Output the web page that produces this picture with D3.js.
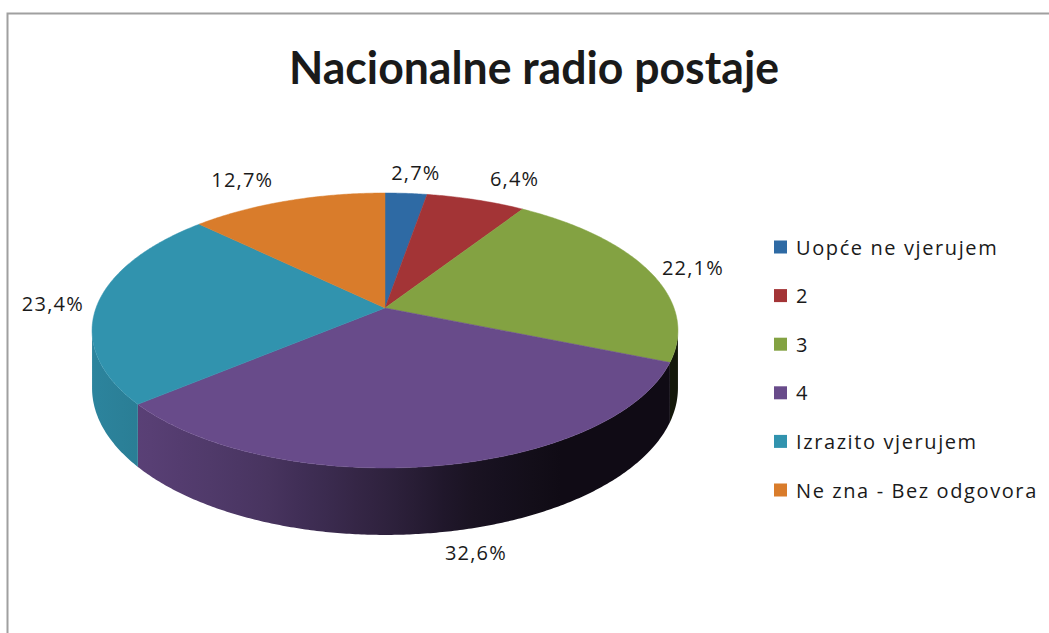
<!DOCTYPE html>
<html>
<head>
<meta charset="utf-8">
<script src="https://cdn.jsdelivr.net/npm/d3@7"></script>
<style>
  body { margin: 0; background: #fff; }
  svg { display: block; font-family: "Open Sans", Lato, sans-serif; }
</style>
</head>
<body>
<div class="pie-chart"></div>
<script>
const title = 'Nacionalne radio postaje';
const categories = ['Uopće ne vjerujem', '2', '3', '4', 'Izrazito vjerujem', 'Ne zna - Bez odgovora'];
const values = [2.7, 6.4, 22.1, 32.6, 23.4, 12.7];
const colors = ['#2e6aa4', '#a33436', '#83a242', '#684b8a', '#3193ae', '#d97c2b'];

const width = 1049, height = 633;
const svg = d3.select('.pie-chart').append('svg')
  .attr('width', width).attr('height', height);

// chart area frame (runs off the right and bottom of the picture)
svg.append('rect')
  .attr('x', 7.5).attr('y', 13.5).attr('width', 1100).attr('height', 700)
  .attr('fill', 'none').attr('stroke', '#a0a0a0').attr('stroke-width', 2);

svg.append('text')
  .attr('x', 534).attr('y', 84)
  .attr('text-anchor', 'middle')
  .attr('font-family', 'Lato, sans-serif')
  .attr('font-size', 46).attr('font-weight', 'bold').attr('fill', '#1a1a1a')
  .attr('textLength', 490).attr('lengthAdjust', 'spacingAndGlyphs')
  .text(title);

// 3d pie: circle in a tilted plane, simple perspective
const CX = 385, CY = 308, RX = 289, RY = 133.8, P = 0.1636, DEPTH = 56;
function project(theta, r, depth) {
  const u = r * Math.sin(theta), v = -r * Math.cos(theta);
  const s = 1 / (1 - P * v);
  return [CX + RX * u * s, CY + RY * v * s + depth * s];
}

const arcs = d3.pie().sort(null).value(d => d)(values);
const line = d3.line();
const step = Math.PI / 360;
function rim(a0, a1, depth) {
  const pts = [];
  const n = Math.max(2, Math.ceil((a1 - a0) / step));
  for (let i = 0; i <= n; i++) pts.push(project(a0 + (a1 - a0) * i / n, 1, depth));
  return pts;
}

// wall shading, light comes from the left
const xLeft = CX - RX / Math.sqrt(1 - P * P), xRight = CX + RX / Math.sqrt(1 - P * P);
const shade = d3.scaleLinear()
  .domain([0, 0.09, 0.29, 0.5, 0.645, 0.8, 1])
  .range([0.9, 0.85, 0.7, 0.45, 0.25, 0.15, 0.15]);
const defs = svg.append('defs');
colors.forEach((c, i) => {
  const g = defs.append('linearGradient').attr('id', 'wall' + i)
    .attr('gradientUnits', 'userSpaceOnUse')
    .attr('x1', xLeft).attr('x2', xRight).attr('y1', 0).attr('y2', 0);
  d3.range(0, 1.0001, 0.05).forEach(t => {
    const k = shade(t), rgb = d3.rgb(c);
    g.append('stop').attr('offset', t)
      .attr('stop-color', d3.rgb(rgb.r * k, rgb.g * k, rgb.b * k).formatHex());
  });
});

// visible part of the side wall
const wMin = Math.acos(-P), wMax = 2 * Math.PI - Math.acos(-P);
const walls = svg.append('g');
arcs.forEach((a, i) => {
  const a0 = Math.max(a.startAngle, wMin), a1 = Math.min(a.endAngle, wMax);
  if (a1 <= a0) return;
  const pts = rim(a0, a1, 0).concat(rim(a0, a1, DEPTH).reverse());
  walls.append('path').attr('d', line(pts) + 'Z').attr('fill', `url(#wall${i})`);
});

const tops = svg.append('g');
arcs.forEach((a, i) => {
  const pts = [[CX, CY]].concat(rim(a.startAngle, a.endAngle, 0));
  tops.append('path').attr('d', line(pts) + 'Z')
    .attr('fill', colors[i]).attr('stroke', colors[i]).attr('stroke-width', 0.5);
});

// data labels: box set just outside the rim, on the side the slice points to
const fmt = v => d3.format('.1f')(v).replace('.', ',') + '%';
const clamp = x => Math.max(-1, Math.min(1, x));
const labels = svg.append('g').attr('font-size', 20).attr('letter-spacing', 1.2)
  .attr('fill', '#1a1a1a');
arcs.forEach((a, i) => {
  const mid = (a.startAngle + a.endAngle) / 2;
  const u = Math.sin(mid), v = -Math.cos(mid);
  const [rx0, ry0] = project(mid, 1, DEPTH * Math.max(0, v));
  const t = labels.append('text').attr('text-anchor', 'middle')
    .attr('dominant-baseline', 'central').text(fmt(values[i]));
  const w = t.node().getComputedTextLength();
  const ax = clamp(u * (v > 0 ? 5.5 : 3));
  const ay = clamp(1.3 * v * Math.abs(v));
  t.attr('x', rx0 + ax * (14 + w / 2)).attr('y', ry0 + ay * 21);
});

// legend
const ly = d3.scalePoint().domain(categories).range([247, 490]);
const legend = svg.append('g').selectAll('g').data(categories).join('g')
  .attr('transform', d => `translate(774,${ly(d)})`);
legend.append('rect').attr('x', 0).attr('y', -6.5).attr('width', 13).attr('height', 13)
  .attr('fill', (d, i) => colors[i]);
legend.append('text').attr('x', 22).attr('dominant-baseline', 'central')
  .attr('font-size', 20).attr('letter-spacing', 1.6)
  .attr('fill', '#1a1a1a').text(d => d);
</script>
</body>
</html>
